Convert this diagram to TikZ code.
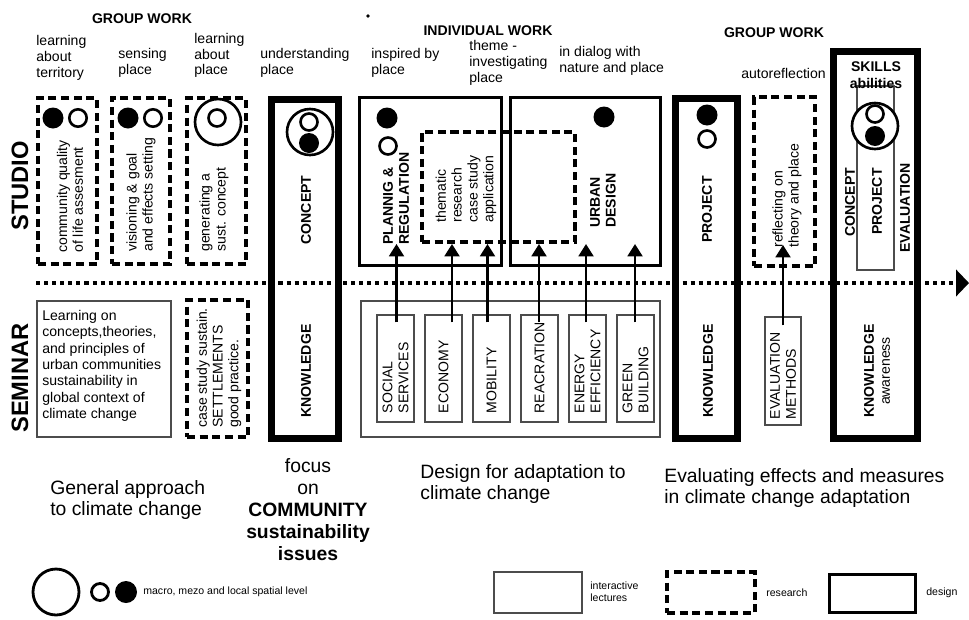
\documentclass[tikz,border=0pt]{standalone}
\usepackage{fontspec}
\setmainfont{Liberation Sans}
\usetikzlibrary{arrows.meta,fit,calc}
\tikzset{
  research/.style={draw, line width=2.3pt, dash pattern=on 4.6pt off 2.6pt, inner sep=0pt},
  design/.style={draw, line width=1.7pt, inner sep=0pt},
  major/.style={draw, line width=3.8pt, inner sep=0pt},
  lecture/.style={draw=black!70, line width=0.6pt, inner sep=0pt},
  lbl/.style={font=\fontsize{8}{9}\selectfont, align=left, inner sep=0pt},
  vlbl/.style={lbl, rotate=90, anchor=west},
  bvlbl/.style={vlbl, font=\fontsize{8}{9}\selectfont\bfseries},
  head/.style={font=\fontsize{8}{9}\selectfont\bfseries, inner sep=0pt},
  big/.style={font=\fontsize{11}{12.5}\selectfont, align=left, inner sep=0pt},
  tiny/.style={font=\fontsize{6}{7}\selectfont, align=left, inner sep=0pt, anchor=west},
  side/.style={rotate=90, font=\fontsize{13.5}{15}\selectfont\bfseries, inner sep=0pt},
  dotline/.style={line width=2.3pt, dash pattern=on 2.3pt off 2.3pt},
  arr/.style={line width=1.2pt, -{Triangle[length=7pt,width=8.5pt]}},
  hollow/.style={draw, line width=1.5pt, fill=white},
}
\begin{document}
\begin{tikzpicture}[x=0.02cm,y=-0.02cm]
\useasboundingbox (0,0) rectangle (969,619);

\node[head] (gw) at (142,19) {GROUP WORK};
\node[head] (iw) at (488,31) {INDIVIDUAL WORK};
\node[head] (gw2) at (774,33) {GROUP WORK};
\fill (368,16) circle (1.8);

\node[lbl, anchor=west] (p1) at (36,58) {learning\\about\\territory};
\node[lbl, anchor=west] (p2) at (118,63) {sensing\\place};
\node[lbl, anchor=west] (p3) at (194,55.5) {learning\\about\\place};
\node[lbl, anchor=west] (p4) at (260,63) {understanding\\place};
\node[lbl, anchor=west] (p5) at (371,63) {inspired by\\place};
\node[lbl, anchor=west] (p6) at (469,63) {theme -\\investigating\\place};
\node[lbl, anchor=west] (p7) at (559,61) {in dialog with\\nature and place};
\node[lbl, anchor=west] (p8) at (741,73) {autoreflection};

\node[side] (studio) at (20,186) {STUDIO};
\node[side] (seminar) at (20,378) {SEMINAR};

\draw[dotline, -{Triangle[length=7.4pt,width=15pt]}] (36,283) coordinate (ds) -- (969,283) coordinate (de);

% studio
\node[research, fit={(38,98)(97,264)}] (q1) {};
\node[research, fit={(112,98)(170,264)}] (q2) {};
\node[research, fit={(187,98)(246,264)}] (q3) {};
\node[major, fit={(271.5,99.5)(338.5,438.5)}] (cc) {};
\node[design, fit={(359.5,97.5)(501.5,265.5)}] (pr) {};
\node[design, fit={(510.5,97.5)(660.5,265.5)}] (ud) {};
\node[research, fit={(422,132)(575,242)}] (th) {};
\node[major, fit={(675.5,98.5)(737.5,438.5)}] (pj) {};
\node[research, fit={(754,97)(815,266)}] (rf) {};
\node[major, fit={(833.5,51.5)(917.5,438.5)}] (sk) {};
\node[lecture, fit={(857,86)(894,270)}] (sp) {};

\fill (53,118) circle (10.5);
\draw[hollow] (78,118) circle (8.7);
\fill (128,118) circle (10.5);
\draw[hollow] (153,118) circle (8.7);
\draw[hollow] (218,122) circle (23);
\draw[hollow] (217,118) circle (8.5);
\draw[hollow] (310,132) circle (23);
\draw[hollow] (309,122) circle (8.5);
\fill (309,143) circle (10);
\fill (387,118) circle (10.5);
\draw[hollow] (388,146) circle (8.5);
\fill (604,117) circle (10.5);
\fill (707,115) circle (10.5);
\draw[hollow] (707,139) circle (8.5);
\draw[hollow] (875,126) circle (23);
\draw[hollow] (875,114) circle (8.5);
\fill (875,136) circle (10);

\node[vlbl] (q1t) at (70,253) {community quality\\of life assesment};
\node[vlbl] (q2t) at (141,252) {visioning \& goal\\and effects setting};
\node[vlbl] (q3t) at (214,252) {generating a\\sust. concept};
\node[bvlbl, anchor=center] (cct) at (306,210) {CONCEPT};
\node[bvlbl] (prt) at (396,245) {PLANNIG \&\\REGULATION};
\node[vlbl] (tht) at (466,223) {thematic\\research\\case study\\application};
\node[bvlbl] (udt) at (603,228) {URBAN\\DESIGN};
\node[bvlbl] (pjt) at (707,243) {PROJECT};
\node[vlbl] (rft) at (787,248) {reflecting on\\theory and place};
\node[head] (skl) at (876,67) {SKILLS};
\node[head] (abl) at (876,83) {abilities};
\node[bvlbl] (skc) at (850,237) {CONCEPT};
\node[bvlbl] (skp) at (877,235) {PROJECT};
\node[bvlbl] (ske) at (905,253) {EVALUATION};

% seminar
\node[lecture, fit={(37,301)(171,437)}] (lo) {};
\node[research, fit={(187,300)(248,437)}] (cs) {};
\node[lecture, fit={(361,301)(660,437)}] (il) {};
\foreach \i/\x in {1/377,2/425,3/473,4/521,5/569,6/617}
  \node[lecture, fit={(\x,315)(\x+37,422)}] (sb\i) {};
\node[lecture, fit={(765,317)(801,425)}] (em) {};

\node[lbl, anchor=west, font=\fontsize{8}{9.3}\selectfont] (lot) at (42,366) {Learning on\\concepts,theories,\\and principles of\\urban communities\\sustainability in\\global context of\\climate change};
\node[vlbl] (cst) at (219,428) {case study sustain.\\SETTLEMENTS\\good practice.};
\node[bvlbl, anchor=center] (ckt) at (306,371) {KNOWLEDGE};
\foreach \i/\t in {1/{SOCIAL\\SERVICES},2/ECONOMY,3/MOBILITY,4/REACRATION,5/{ENERGY\\EFFICIENCY},6/{GREEN\\BUILDING}}
  \node[vlbl] (sl\i) at ($(sb\i.south)+(0,-9)$) {\t};
\node[vlbl] (emt) at ($(em.south)+(0,-6)$) {EVALUATION\\METHODS};
\node[bvlbl, anchor=center] (pkt) at (708,371) {KNOWLEDGE};
\node[bvlbl, anchor=center, align=center] (skk) at (877,371) {KNOWLEDGE\\\mdseries awareness};

\foreach \i/\dx in {1/1,2/8.5,3/-4,4/-0.5,5/-1.5,6/-0.5}
  \draw[arr] ($(sb\i.north)+(\dx,8)$) -- ($(sb\i.north |- th.south)+(\dx,0)$);
\draw[arr] ($(em.north)+(0,9)$) -- ($(em.north |- rf.south)+(0,-23)$);

% bottom
\node[big, anchor=west] (ga) at (50,500) {General approach\\to climate change};
\node[big, align=center] (fc) at (308,510) {focus\\on\\\textbf{COMMUNITY}\\\textbf{sustainability}\\\textbf{issues}};
\node[big, anchor=west] (da) at (420,484) {Design for adaptation to\\climate change};
\node[big, anchor=west] (ev) at (664,488) {Evaluating effects and measures\\in climate change adaptation};

% legend
\draw[line width=1.6pt] (56,592) circle (23);
\draw[line width=1.6pt] (100,592) circle (8.5);
\fill (126,592) circle (11);
\node[tiny] (lg1) at (143,592) {macro, mezo and local spatial level};
\node[lecture, fit={(494,572)(582,613)}] (lg2) {};
\node[tiny] (lg2t) at (590,592) {interactive\\lectures};
\node[research, fit={(667,572)(755,613)}] (lg3) {};
\node[tiny] (lg3t) at (766,593) {research};
\node[design, fit={(829.5,574.5)(915.5,612.5)}] (lg4) {};
\node[tiny] (lg4t) at (926,593) {design};
\end{tikzpicture}
\end{document}
